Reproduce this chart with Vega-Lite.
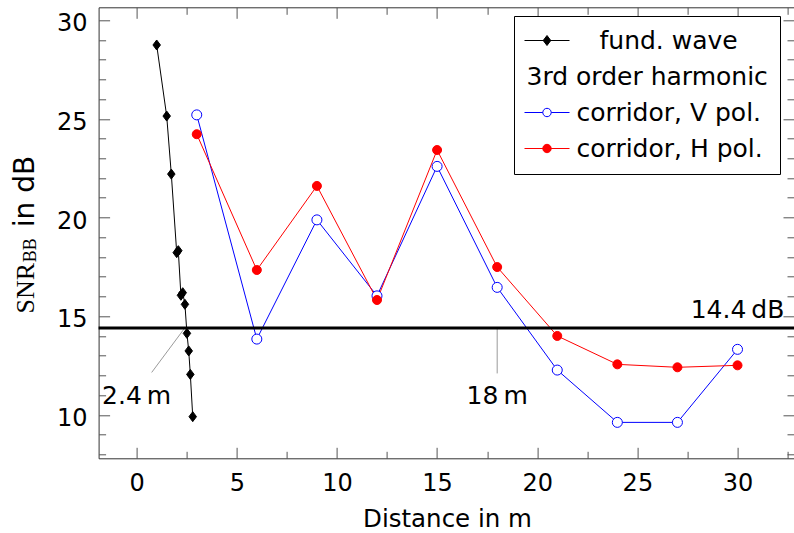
{
  "$schema": "https://vega.github.io/schema/vega-lite/v6.json",
  "width": 695.4,
  "height": 451,
  "autosize": "none",
  "padding": {"left": 98.6, "top": 7.3, "right": 0, "bottom": 74.7},
  "background": "white",
  "config": {
    "view": {"stroke": "#333333", "strokeWidth": 1},
    "axis": {"grid": false, "domain": false, "labelColor": "black", "titleColor": "black", "titleFontWeight": "normal"}
  },
  "resolve": {"axis": {"x": "independent", "y": "independent"}},
  "datasets": {
    "series": [
      {"x": 1.0, "y": 28.74, "s": "fund. wave"},
      {"x": 1.5, "y": 25.14, "s": "fund. wave"},
      {"x": 1.73, "y": 22.2, "s": "fund. wave"},
      {"x": 2.0, "y": 18.22, "s": "fund. wave"},
      {"x": 2.08, "y": 18.32, "s": "fund. wave"},
      {"x": 2.21, "y": 16.06, "s": "fund. wave"},
      {"x": 2.3, "y": 16.19, "s": "fund. wave"},
      {"x": 2.41, "y": 15.6, "s": "fund. wave"},
      {"x": 2.51, "y": 14.13, "s": "fund. wave"},
      {"x": 2.6, "y": 13.24, "s": "fund. wave"},
      {"x": 2.68, "y": 12.05, "s": "fund. wave"},
      {"x": 2.8, "y": 9.91, "s": "fund. wave"},
      {"x": 3, "y": 25.2, "s": "corridor, V pol."},
      {"x": 6, "y": 13.84, "s": "corridor, V pol."},
      {"x": 9, "y": 19.88, "s": "corridor, V pol."},
      {"x": 12, "y": 16.03, "s": "corridor, V pol."},
      {"x": 15, "y": 22.59, "s": "corridor, V pol."},
      {"x": 18, "y": 16.46, "s": "corridor, V pol."},
      {"x": 21, "y": 12.27, "s": "corridor, V pol."},
      {"x": 24, "y": 9.62, "s": "corridor, V pol."},
      {"x": 27, "y": 9.62, "s": "corridor, V pol."},
      {"x": 30, "y": 13.32, "s": "corridor, V pol."},
      {"x": 3, "y": 24.22, "s": "corridor, H pol."},
      {"x": 6, "y": 17.34, "s": "corridor, H pol."},
      {"x": 9, "y": 21.6, "s": "corridor, H pol."},
      {"x": 12, "y": 15.82, "s": "corridor, H pol."},
      {"x": 15, "y": 23.42, "s": "corridor, H pol."},
      {"x": 18, "y": 17.49, "s": "corridor, H pol."},
      {"x": 21, "y": 14.0, "s": "corridor, H pol."},
      {"x": 24, "y": 12.56, "s": "corridor, H pol."},
      {"x": 27, "y": 12.41, "s": "corridor, H pol."},
      {"x": 30, "y": 12.51, "s": "corridor, H pol."}
    ],
    "hline": [{"v": 14.4}],
    "ann": [
      {"x": 2.4, "y": 14.4, "x2": 0.75, "y2": 12.15},
      {"x": 18, "y": 14.4, "x2": 18, "y2": 12.1}
    ],
    "labels": [
      {"x": 30, "y": 14.89, "t": "14.4\u2009dB"},
      {"x": 0, "y": 10.55, "t": "2.4\u2009m"},
      {"x": 18, "y": 10.55, "t": "18\u2009m"}
    ]
  },
  "layer": [
    {
      "data": {"name": "ann"},
      "mark": {"type": "rule", "strokeWidth": 0.8, "color": "#808080"},
      "encoding": {
        "x": {"field": "x", "type": "quantitative", "scale": {"domain": [-1.9, 32.82], "nice": false, "zero": false},
          "axis": {"orient": "top", "values": [0, 2.5, 5, 7.5, 10, 12.5, 15, 17.5, 20, 22.5, 25, 27.5, 30, 32.5], "labels": false, "domain": false, "ticks": true,
            "tickSize": {"condition": {"test": "datum.value % 5 === 0", "value": -11}, "value": -7}, "tickColor": "#555555", "tickWidth": 1, "title": null}},
        "y": {"field": "y", "type": "quantitative", "scale": {"domain": [7.8, 30.65], "nice": false, "zero": false},
          "axis": {"orient": "right", "values": [8, 9, 10, 11, 12, 13, 14, 15, 16, 17, 18, 19, 20, 21, 22, 23, 24, 25, 26, 27, 28, 29, 30], "labels": false, "domain": false, "ticks": true,
            "tickSize": {"condition": {"test": "datum.value % 5 === 0", "value": -11}, "value": -7}, "tickColor": "#555555", "tickWidth": 1, "title": null}},
        "x2": {"field": "x2"},
        "y2": {"field": "y2"}
      }
    },
    {
      "data": {"name": "series"},
      "mark": {"type": "line", "strokeWidth": 1},
      "encoding": {
        "x": {"field": "x", "type": "quantitative", "scale": {"domain": [-1.9, 32.82], "nice": false, "zero": false},
          "axis": {"orient": "bottom", "values": [0, 5, 10, 15, 20, 25, 30], "ticks": false, "tickSize": 0, "domain": false,
            "labelFont": "DejaVu Sans", "labelFontSize": 24, "labelBaseline": "alphabetic", "labelPadding": 32.4, "labelFlush": false, "labelOverlap": false,
            "title": "Distance in m", "titleFont": "DejaVu Sans", "titleFontSize": 24.5, "titleAlign": "center", "titleBaseline": "alphabetic", "titleX": 348.4, "titleY": 68}},
        "y": {"field": "y", "type": "quantitative", "scale": {"domain": [7.8, 30.65], "nice": false, "zero": false},
          "axis": {"orient": "left", "values": [10, 15, 20, 25, 30], "ticks": false, "tickSize": 0, "domain": false,
            "labelFont": "DejaVu Sans", "labelFontSize": 24, "labelBaseline": "alphabetic", "labelOffset": 10.6, "labelPadding": 11.5, "labelAlign": "right", "labelOverlap": false,
            "title": "SNR", "titleFont": "Liberation Serif", "titleFontSize": 26, "titleAngle": 270, "titleAlign": "left", "titleBaseline": "alphabetic", "titleX": -65.3, "titleY": 305.7}},
        "stroke": {"field": "s", "type": "nominal",
          "scale": {"domain": ["fund. wave", "3rd order harmonic", "corridor, V pol.", "corridor, H pol."], "range": ["black", "transparent", "#0000ff", "#ff0000"]},
          "legend": {
            "orient": "none", "legendX": 415.4, "legendY": 8.7, "direction": "vertical", "title": null,
            "padding": 12, "strokeColor": "black", "fillColor": "white",
            "symbolSize": 400, "symbolOffset": 8.5, "symbolStrokeWidth": 1,
            "labelFont": "DejaVu Sans", "labelFontSize": 25, "labelColor": "black", "labelLimit": 400, "labelOffset": 17, "rowPadding": 10,
            "encode": {
              "symbols": {"update": {
                "shape": {"signal": "datum.value === 'fund. wave' ? 'M-2.25,0H2.25M0,-0.5L0.38,0L0,0.5L-0.38,0Z' : datum.value === 'corridor, V pol.' ? 'M-2.25,0H-0.42M0.42,0H2.25M0.42,0A0.42,0.42,0,1,1,-0.42,0A0.42,0.42,0,1,1,0.42,0Z' : datum.value === 'corridor, H pol.' ? 'M-2.25,0H2.25M0.42,0A0.42,0.42,0,1,1,-0.42,0A0.42,0.42,0,1,1,0.42,0Z' : 'M0,0'"},
                "fill": {"signal": "datum.value === 'fund. wave' ? 'black' : datum.value === 'corridor, V pol.' ? 'white' : datum.value === 'corridor, H pol.' ? '#ff0000' : 'transparent'"},
                "strokeWidth": {"value": 1},
                "opacity": {"value": 1}
              }},
              "labels": {"update": {
                "dx": {"signal": "datum.value === '3rd order harmonic' ? -50 : datum.value === 'fund. wave' ? 23 : 0"}
              }}
            }
          }
        }
      }
    },
    {
      "data": {"name": "hline"},
      "mark": {"type": "rule", "strokeWidth": 3, "color": "black"},
      "encoding": {
        "y": {"field": "v", "type": "quantitative", "scale": {"domain": [7.8, 30.65], "nice": false, "zero": false}, "axis": null}
      }
    },
    {
      "data": {"name": "series"},
      "transform": [{"filter": "datum.s === 'fund. wave'"}],
      "mark": {"type": "point", "filled": true, "opacity": 1, "size": 100, "strokeWidth": 1, "shape": "M0,-1L0.75,0L0,1L-0.75,0Z", "fill": "black", "stroke": "black"},
      "encoding": {
        "x": {"field": "x", "type": "quantitative", "scale": {"domain": [-1.9, 32.82], "nice": false, "zero": false},
          "axis": {"orient": "bottom", "values": [0, 2.5, 5, 7.5, 10, 12.5, 15, 17.5, 20, 22.5, 25, 27.5, 30, 32.5], "labels": false, "domain": false, "ticks": true,
            "tickSize": {"condition": {"test": "datum.value % 5 === 0", "value": -11}, "value": -7}, "tickColor": "#555555", "tickWidth": 1, "title": null}},
        "y": {"field": "y", "type": "quantitative", "scale": {"domain": [7.8, 30.65], "nice": false, "zero": false},
          "axis": {"orient": "left", "values": [8, 9, 10, 11, 12, 13, 14, 15, 16, 17, 18, 19, 20, 21, 22, 23, 24, 25, 26, 27, 28, 29, 30], "labels": false, "domain": false, "ticks": true,
            "tickSize": {"condition": {"test": "datum.value % 5 === 0", "value": -11}, "value": -7}, "tickColor": "#555555", "tickWidth": 1,
            "title": "BB", "titleFont": "Liberation Serif", "titleFontSize": 18, "titleAngle": 270, "titleAlign": "left", "titleBaseline": "alphabetic", "titleX": -63.1, "titleY": 254.4}}
      }
    },
    {
      "data": {"name": "series"},
      "transform": [{"filter": "datum.s === 'corridor, V pol.'"}],
      "mark": {"type": "point", "filled": true, "opacity": 1, "size": 100, "strokeWidth": 1, "shape": "circle", "fill": "white", "stroke": "#0000ff"},
      "encoding": {
        "x": {"field": "x", "type": "quantitative", "scale": {"domain": [-1.9, 32.82], "nice": false, "zero": false}, "axis": null},
        "y": {"field": "y", "type": "quantitative", "scale": {"domain": [7.8, 30.65], "nice": false, "zero": false}, "axis": null}
      }
    },
    {
      "data": {"name": "series"},
      "transform": [{"filter": "datum.s === 'corridor, H pol.'"}],
      "mark": {"type": "point", "filled": true, "opacity": 1, "size": 100, "strokeWidth": 1, "shape": "M0.9,0A0.9,0.9,0,1,1,-0.9,0A0.9,0.9,0,1,1,0.9,0Z", "fill": "#ff0000", "stroke": "#ff0000"},
      "encoding": {
        "x": {"field": "x", "type": "quantitative", "scale": {"domain": [-1.9, 32.82], "nice": false, "zero": false}, "axis": null},
        "y": {"field": "y", "type": "quantitative", "scale": {"domain": [7.8, 30.65], "nice": false, "zero": false}, "axis": null}
      }
    },
    {
      "data": {"name": "labels"},
      "mark": {"type": "text", "font": "DejaVu Sans", "fontSize": 25, "align": "center", "baseline": "alphabetic", "color": "black"},
      "encoding": {
        "x": {"field": "x", "type": "quantitative", "scale": {"domain": [-1.9, 32.82], "nice": false, "zero": false}, "axis": null},
        "y": {"field": "y", "type": "quantitative", "scale": {"domain": [7.8, 30.65], "nice": false, "zero": false},
          "axis": {"orient": "left", "labels": false, "ticks": false, "domain": false,
            "title": "in dB", "titleFont": "DejaVu Sans", "titleFontSize": 28, "titleAngle": 270, "titleAlign": "left", "titleBaseline": "alphabetic", "titleX": -65.3, "titleY": 219.4}},
        "text": {"field": "t"}
      }
    }
  ]
}
